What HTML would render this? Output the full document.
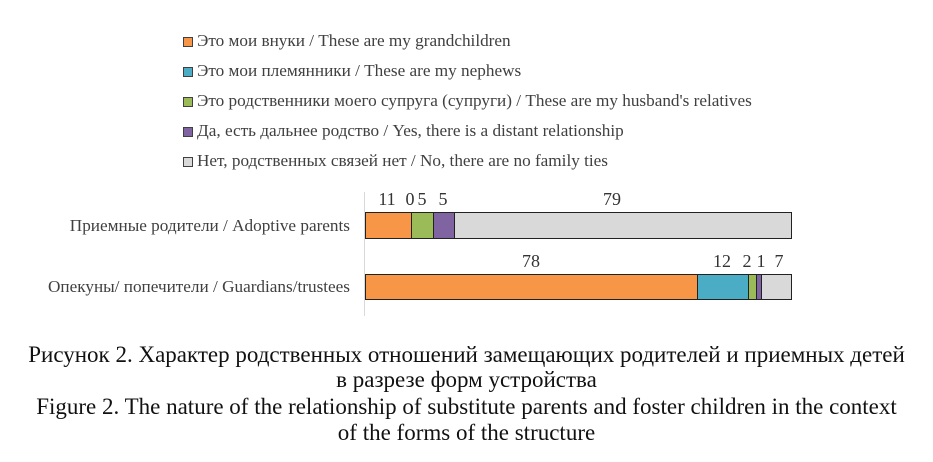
<!DOCTYPE html>
<html><head><meta charset="utf-8"><style>
body{margin:0;background:#fff;width:933px;height:462px;overflow:hidden;position:relative;font-family:"Liberation Serif","Noto Serif CJK SC",serif;color:#404040}
.a{position:absolute;white-space:nowrap;line-height:20px}
.lg{font-size:17.2px}
.sq{position:absolute;width:8px;height:8px;border:1px solid #404040}
.b{position:absolute;box-sizing:border-box;border:1px solid #222}
.n{position:absolute;font-size:18px;line-height:20px;transform:translateX(-50%);color:#333}
.cap{position:absolute;left:0;width:933px;text-align:center;font-size:23px;line-height:26px;color:#111}
</style></head><body>
<div class="sq" style="left:183px;top:37px;background:#f79646"></div><div class="a lg" style="left:197px;top:31px">Это мои внуки / These are my grandchildren</div>
<div class="sq" style="left:183px;top:67px;background:#4bacc6"></div><div class="a lg" style="left:197px;top:61px">Это мои племянники / These are my nephews</div>
<div class="sq" style="left:183px;top:97px;background:#9bbb59"></div><div class="a lg" style="left:197px;top:91px">Это родственники моего супруга (супруги) / These are my husband's relatives</div>
<div class="sq" style="left:183px;top:127px;background:#8064a2"></div><div class="a lg" style="left:197px;top:121px">Да, есть дальнее родство / Yes, there is a distant relationship</div>
<div class="sq" style="left:183px;top:157px;background:#d9d9d9"></div><div class="a lg" style="left:197px;top:151px">Нет, родственных связей нет / No, there are no family ties</div>

<div style="position:absolute;left:364px;top:192px;width:1px;height:124px;background:#d9d9d9"></div>
<div class="a lg" style="right:583px;top:216px">Приемные родители / Adoptive parents</div>
<div class="a lg" style="right:583px;top:277px">Опекуны/ попечители / Guardians/trustees</div>

<div class="b" style="left:365px;top:212px;width:47px;height:27px;background:#f79646"></div>
<div class="b" style="left:411px;top:212px;width:23px;height:27px;background:#9bbb59"></div>
<div class="b" style="left:433px;top:212px;width:22px;height:27px;background:#8064a2"></div>
<div class="b" style="left:454px;top:212px;width:338px;height:27px;background:#d9d9d9"></div>

<div class="b" style="left:365px;top:274px;width:333px;height:26px;background:#f79646"></div>
<div class="b" style="left:697px;top:274px;width:52px;height:26px;background:#4bacc6"></div>
<div class="b" style="left:748px;top:274px;width:9px;height:26px;background:#9bbb59"></div>
<div class="b" style="left:756px;top:274px;width:6px;height:26px;background:#8064a2"></div>
<div class="b" style="left:761px;top:274px;width:31px;height:26px;background:#d9d9d9"></div>

<div class="n" style="left:387px;top:189px">11</div>
<div class="n" style="left:410px;top:189px">0</div>
<div class="n" style="left:422px;top:189px">5</div>
<div class="n" style="left:443px;top:189px">5</div>
<div class="n" style="left:612px;top:189px">79</div>
<div class="n" style="left:531px;top:251px">78</div>
<div class="n" style="left:722px;top:251px">12</div>
<div class="n" style="left:747px;top:251px">2</div>
<div class="n" style="left:761px;top:251px">1</div>
<div class="n" style="left:779px;top:251px">7</div>

<div class="cap" style="top:342px">Рисунок 2. Характер родственных отношений замещающих родителей и приемных детей</div>
<div class="cap" style="top:367px">в разрезе форм устройства</div>
<div class="cap" style="top:394px">Figure 2. The nature of the relationship of substitute parents and foster children in the context</div>
<div class="cap" style="top:420px">of the forms of the structure</div>
</body></html>
